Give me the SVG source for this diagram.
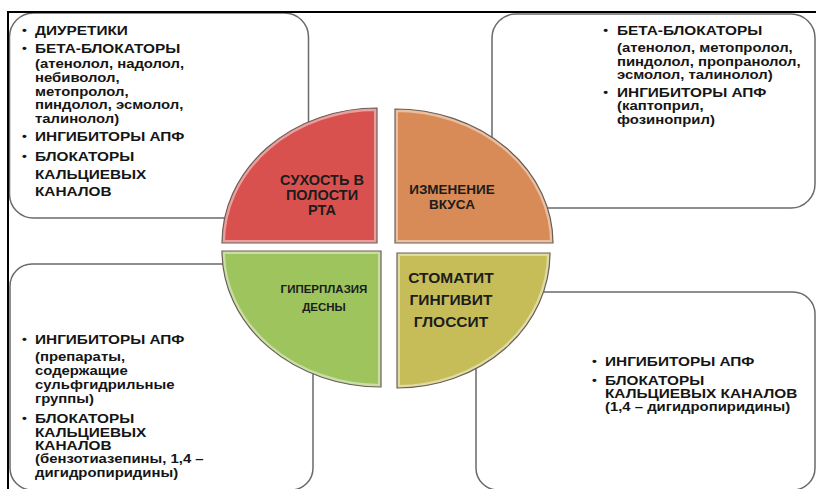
<svg xmlns="http://www.w3.org/2000/svg" width="816" height="489" viewBox="0 0 816 489">
<style>
.box{fill:#fff;stroke:#6a6a6a;stroke-width:1.5}
.t{font-family:"Liberation Sans",Arial,sans-serif;font-weight:bold;fill:#151515}
.cap{font-size:12.3px}
.low{font-size:12.4px}
.bul{font-size:11px}
.q{font-family:"Liberation Sans",Arial,sans-serif;font-weight:bold;fill:#1c1c1c;text-anchor:middle}
.edge{fill:none;stroke:#6a5e55;stroke-width:1.2}
.hl{fill:none;stroke:#fff;stroke-opacity:0.45;stroke-width:6}
</style>
<defs>
<clipPath id="cR"><path d="M377,243 L222,243 A155,135 0 0,1 377,108 Z"/></clipPath>
<clipPath id="cO"><path d="M395,243 L395,109 A158,134 0 0,1 553,243 Z"/></clipPath>
<clipPath id="cG"><path d="M381,251 L222,251 A159,136 0 0,0 381,387 Z"/></clipPath>
<clipPath id="cY"><path d="M397,253 L550,253 A153,135 0 0,1 397,388 Z"/></clipPath>
</defs>
<rect width="816" height="489" fill="#fff"/>

<g id="box-tl">
<rect class="box" x="9.5" y="13" width="299" height="205" rx="24"/>
<g transform="translate(35 0) scale(1.25 1)">
<text class="t bul" x="-10.4" y="34">•</text>
<text class="t cap" x="0" y="35">ДИУРЕТИКИ</text>
<text class="t bul" x="-10.4" y="52">•</text>
<text class="t cap" x="0" y="53">БЕТА-БЛОКАТОРЫ</text>
<text class="t low" transform="scale(0.96 1)" x="0" y="68">(атенолол, надолол,</text>
<text class="t low" transform="scale(0.96 1)" x="0" y="82">небиволол,</text>
<text class="t low" transform="scale(0.96 1)" x="0" y="96">метопролол,</text>
<text class="t low" transform="scale(0.96 1)" x="0" y="109">пиндолол, эсмолол,</text>
<text class="t low" transform="scale(0.96 1)" x="0" y="123">талинолол)</text>
<text class="t bul" x="-10.4" y="140">•</text>
<text class="t cap" x="0" y="141">ИНГИБИТОРЫ АПФ</text>
<text class="t bul" x="-10.4" y="160">•</text>
<text class="t cap" x="0" y="161">БЛОКАТОРЫ</text>
<text class="t cap" x="0" y="179">КАЛЬЦИЕВЫХ</text>
<text class="t cap" x="0" y="196">КАНАЛОВ</text>
</g>
</g>

<g id="box-tr">
<rect class="box" x="492" y="14" width="323" height="194" rx="24"/>
<g transform="translate(617 0) scale(1.25 1)">
<text class="t bul" x="-11" y="34">•</text>
<text class="t cap" x="0" y="35">БЕТА-БЛОКАТОРЫ</text>
<text class="t low" transform="scale(0.96 1)" x="0" y="52.5">(атенолол, метопролол,</text>
<text class="t low" transform="scale(0.96 1)" x="0" y="66">пиндолол, пропранолол,</text>
<text class="t low" transform="scale(0.96 1)" x="0" y="79.5">эсмолол, талинолол)</text>
<text class="t bul" x="-11" y="96">•</text>
<text class="t cap" x="0" y="97">ИНГИБИТОРЫ АПФ</text>
<text class="t low" transform="scale(0.96 1)" x="0" y="110.5">(каптоприл,</text>
<text class="t low" transform="scale(0.96 1)" x="0" y="124">фозиноприл)</text>
</g>
</g>

<g id="box-bl">
<rect class="box" x="10" y="264" width="303" height="226" rx="22"/>
<g transform="translate(35 0) scale(1.25 1)">
<text class="t bul" x="-10.4" y="343">•</text>
<text class="t cap" x="0" y="344">ИНГИБИТОРЫ АПФ</text>
<text class="t low" transform="scale(0.96 1)" x="0" y="361">(препараты,</text>
<text class="t low" transform="scale(0.96 1)" x="0" y="375">содержащие</text>
<text class="t low" transform="scale(0.96 1)" x="0" y="389">сульфгидрильные</text>
<text class="t low" transform="scale(0.96 1)" x="0" y="403">группы)</text>
<text class="t bul" x="-10.4" y="422">•</text>
<text class="t cap" x="0" y="423">БЛОКАТОРЫ</text>
<text class="t cap" x="0" y="437">КАЛЬЦИЕВЫХ</text>
<text class="t cap" x="0" y="450">КАНАЛОВ</text>
<text class="t low" transform="scale(0.96 1)" x="0" y="463.5">(бензотиазепины, 1,4 –</text>
<text class="t low" transform="scale(0.96 1)" x="0" y="477">дигидропиридины)</text>
</g>
</g>

<g id="box-br">
<rect class="box" x="476" y="292" width="339" height="198" rx="22"/>
<g transform="translate(605 0) scale(1.25 1)">
<text class="t bul" x="-10.4" y="365">•</text>
<text class="t cap" x="0" y="366">ИНГИБИТОРЫ АПФ</text>
<text class="t bul" x="-10.4" y="384">•</text>
<text class="t cap" x="0" y="385">БЛОКАТОРЫ</text>
<text class="t cap" x="0" y="398">КАЛЬЦИЕВЫХ КАНАЛОВ</text>
<text class="t low" transform="scale(0.96 1)" x="0" y="411.5">(1,4 – дигидропиридины)</text>
</g>
</g>

<g id="frame">
<path d="M8,489 L8,12 L816,12" fill="none" stroke="#000" stroke-width="2"/>
</g>

<g id="q-dry">
<path d="M377,243 L222,243 A155,135 0 0,1 377,108 Z" fill="#D9514F"/>
<path class="hl" clip-path="url(#cR)" d="M377,243 L222,243 A155,135 0 0,1 377,108 Z"/>
<path class="edge" d="M377,243 L222,243 A155,135 0 0,1 377,108 Z"/>
<text class="q" font-size="14.5" x="322" y="185">СУХОСТЬ В</text>
<text class="q" font-size="14.5" x="322" y="200">ПОЛОСТИ</text>
<text class="q" font-size="14.5" x="322" y="215">РТА</text>
</g>

<g id="q-taste">
<path d="M395,243 L395,109 A158,134 0 0,1 553,243 Z" fill="#D88B56"/>
<path class="hl" clip-path="url(#cO)" d="M395,243 L395,109 A158,134 0 0,1 553,243 Z"/>
<path class="edge" d="M395,243 L395,109 A158,134 0 0,1 553,243 Z"/>
<text class="q" font-size="13.5" x="452" y="194">ИЗМЕНЕНИЕ</text>
<text class="q" font-size="13.5" x="452" y="208.5">ВКУСА</text>
</g>

<g id="q-gum">
<path d="M381,251 L222,251 A159,136 0 0,0 381,387 Z" fill="#9DC45D"/>
<path class="hl" clip-path="url(#cG)" d="M381,251 L222,251 A159,136 0 0,0 381,387 Z"/>
<path class="edge" d="M381,251 L222,251 A159,136 0 0,0 381,387 Z"/>
<text class="q" font-size="11.5" x="324" y="293">ГИПЕРПЛАЗИЯ</text>
<text class="q" font-size="11.5" x="324" y="310.5">ДЕСНЫ</text>
</g>

<g id="q-stom">
<path d="M397,253 L550,253 A153,135 0 0,1 397,388 Z" fill="#C6BD58"/>
<path class="hl" clip-path="url(#cY)" d="M397,253 L550,253 A153,135 0 0,1 397,388 Z"/>
<path class="edge" d="M397,253 L550,253 A153,135 0 0,1 397,388 Z"/>
<text class="q" font-size="15.5" x="451" y="283">СТОМАТИТ</text>
<text class="q" font-size="15.5" x="451" y="305">ГИНГИВИТ</text>
<text class="q" font-size="15.5" x="451" y="327">ГЛОССИТ</text>
</g>
</svg>
